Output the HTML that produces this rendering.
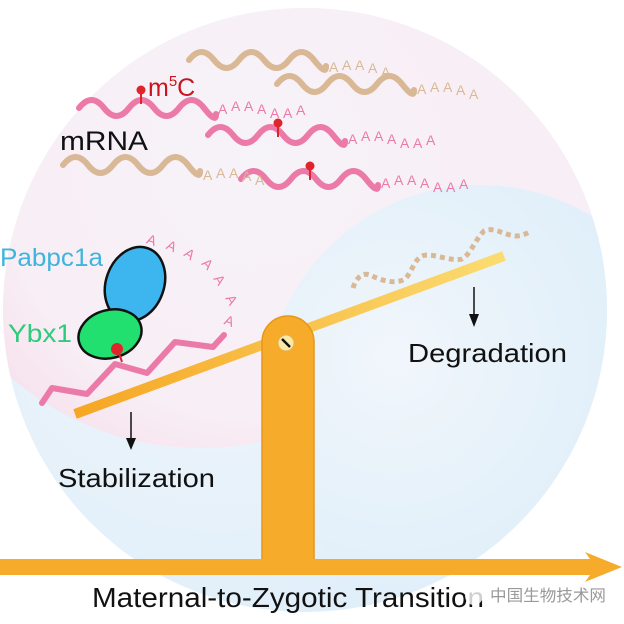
<!DOCTYPE html>
<html><head><meta charset="utf-8"><style>
body{margin:0;background:#fff}
svg{display:block}
text{font-family:"Liberation Sans",Arial,sans-serif}
</style></head><body>
<svg width="624" height="624" viewBox="0 0 624 624" xmlns="http://www.w3.org/2000/svg">
<defs>
<clipPath id="big"><circle cx="305" cy="310" r="302"/></clipPath>
<radialGradient id="pk" cx="0.6" cy="0.5" r="0.6">
<stop offset="0" stop-color="#f6f3f9"/><stop offset="0.75" stop-color="#f8eef5"/><stop offset="1" stop-color="#f6e0ec"/></radialGradient>
<radialGradient id="bl" cx="0.35" cy="0.45" r="0.7">
<stop offset="0" stop-color="#f2f6fb"/><stop offset="1" stop-color="#dcedf9"/></radialGradient>
<radialGradient id="bl2" cx="0.3" cy="0.4" r="0.8">
<stop offset="0" stop-color="#f1f6fb"/><stop offset="1" stop-color="#d9ecf9"/></radialGradient>
<linearGradient id="beam" x1="0" x2="1"><stop offset="0" stop-color="#f6a623"/><stop offset="1" stop-color="#fbdc72"/></linearGradient>
</defs>
<g clip-path="url(#big)">
<rect width="624" height="624" fill="url(#bl)"/>
<rect x="300" y="0" width="324" height="260" fill="#f7eef6"/>
<circle cx="200" cy="160" r="288" fill="url(#pk)"/>
<circle cx="480" cy="400" r="215" fill="url(#bl2)"/>
</g>
<g fill="none" stroke-width="6" stroke-linecap="round">
<path stroke="#d9b896" d="M189,60 q12.5,-16 25,0 t25,0 t25,0 t25,0 t25,0 t12,6"/>
<path stroke="#d9b896" d="M277,84 q12.5,-16 25,0 t25,0 t25,0 t25,0 t25,0 t12,6"/>
<path stroke="#ec7aa8" d="M79,108 q12.5,-16 25,0 t25,0 t25,0 t25,0 t25,0 t12,6"/>
<path stroke="#ec7aa8" d="M208,135 q12.5,-16 25,0 t25,0 t25,0 t25,0 t25,0 t12,6"/>
<path stroke="#d9b896" d="M63,165 q12.5,-16 25,0 t25,0 t25,0 t25,0 t25,0 t12,6"/>
<path stroke="#ec7aa8" d="M241,179 q12.5,-16 25,0 t25,0 t25,0 t25,0 t25,0 t12,6"/>
<polyline stroke="#ec7aa8" stroke-linejoin="round" points="42,403 52,388 87,394 115,364 147,373 175,342 213,347 224,335"/>
</g>
<path fill="none" stroke="#d9b896" stroke-width="5" stroke-dasharray="5,4" d="M353,288 C356,278 362,272 370,275 C380,280 395,285 405,279 C412,272 414,260 422,256 C432,252 450,262 462,259 C470,255 475,240 484,231 C494,226 505,236 517,236 C524,235 528,233 531,231"/>
<g fill="#e0242b" stroke="#e0242b" stroke-width="2">
<line x1="141" y1="92" x2="141" y2="104"/><circle cx="141" cy="90" r="4.5" stroke="none"/>
<line x1="278" y1="125" x2="278" y2="137"/><circle cx="278" cy="123" r="4.5" stroke="none"/>
<line x1="310" y1="168" x2="310" y2="180"/><circle cx="310" cy="166" r="4.5" stroke="none"/>
</g>
<g font-size="14" fill="#d9b896">
<text x="329" y="72">A</text><text x="342" y="70">A</text><text x="355" y="70">A</text><text x="368" y="73">A</text><text x="381" y="77">A</text>
<text x="417" y="94">A</text><text x="430" y="92">A</text><text x="443" y="92">A</text><text x="456" y="95">A</text><text x="469" y="99">A</text>
<text x="203" y="180">A</text><text x="216" y="178">A</text><text x="229" y="178">A</text><text x="242" y="181">A</text><text x="255" y="185">A</text>
</g>
<g font-size="14" fill="#ec7aa8">
<text x="218" y="114">A</text><text x="231" y="111">A</text><text x="244" y="111">A</text><text x="257" y="114">A</text><text x="270" y="118">A</text><text x="283" y="118">A</text><text x="296" y="115">A</text>
<text x="348" y="144">A</text><text x="361" y="141">A</text><text x="374" y="141">A</text><text x="387" y="144">A</text><text x="400" y="148">A</text><text x="413" y="148">A</text><text x="426" y="145">A</text>
<text x="381" y="188">A</text><text x="394" y="185">A</text><text x="407" y="185">A</text><text x="420" y="188">A</text><text x="433" y="192">A</text><text x="446" y="192">A</text><text x="459" y="189">A</text>
<text x="147" y="245" transform="rotate(20 152 240)">A</text>
<text x="167" y="251" transform="rotate(25 172 246)">A</text>
<text x="185" y="259" transform="rotate(35 190 254)">A</text>
<text x="203" y="269" transform="rotate(45 208 264)">A</text>
<text x="215" y="285" transform="rotate(55 220 280)">A</text>
<text x="227" y="305" transform="rotate(60 232 300)">A</text>
<text x="225" y="326" transform="rotate(20 230 320)">A</text>
</g>
<ellipse cx="135" cy="284" rx="29" ry="38" transform="rotate(20 135 284)" fill="#3db6f0" stroke="#111" stroke-width="2.5"/>
<ellipse cx="110" cy="334" rx="32" ry="24" transform="rotate(-15 110 334)" fill="#22e070" stroke="#111" stroke-width="2.5"/>
<line x1="118" y1="350" x2="122" y2="362" stroke="#e0242b" stroke-width="2"/>
<circle cx="117" cy="349" r="6" fill="#e0242b"/>
<line x1="75" y1="414" x2="504" y2="256" stroke="url(#beam)" stroke-width="10"/>
<path d="M262,560 V342 A26,26 0 0 1 314,342 V560 Z" fill="#f6ac2a" stroke="#e7961a" stroke-width="1.5"/>
<path d="M0,559 H590 L585,552 L622,567 L585,582 L590,575 H0 Z" fill="#f6ac2a"/>
<circle cx="286" cy="343" r="8" fill="#fbe8a6" stroke="#e7b050"/>
<line x1="282" y1="339" x2="290" y2="347" stroke="#111" stroke-width="2.5"/>
<g stroke="#111" stroke-width="1.5" fill="#111">
<line x1="131" y1="412" x2="131" y2="442"/><path d="M126,438 L131,450 L136,438 Z" stroke="none"/>
<line x1="474" y1="287" x2="474" y2="318"/><path d="M469,314 L474,327 L479,314 Z" stroke="none"/>
</g>
<text x="148" y="96" font-size="25" fill="#c8141e">m<tspan font-size="15" dy="-10">5</tspan><tspan dy="10">C</tspan></text>
<text x="60" y="150" font-size="27" fill="#111" textLength="88" lengthAdjust="spacingAndGlyphs">mRNA</text>
<text x="0" y="266" font-size="25" fill="#3fb4dc" textLength="103" lengthAdjust="spacingAndGlyphs">Pabpc1a</text>
<text x="8" y="342" font-size="25" fill="#2ecb7a" textLength="64" lengthAdjust="spacingAndGlyphs">Ybx1</text>
<text x="408" y="362" font-size="26" fill="#111" textLength="159" lengthAdjust="spacingAndGlyphs">Degradation</text>
<text x="58" y="487" font-size="26" fill="#111" textLength="157" lengthAdjust="spacingAndGlyphs">Stabilization</text>
<text x="92" y="607" font-size="28" fill="#111" textLength="392" lengthAdjust="spacingAndGlyphs">Maternal-to-Zygotic Transition</text>
<circle cx="474" cy="596" r="9" fill="#fff" opacity="0.8"/>
<text x="490" y="601" font-size="16" fill="#999" font-family="'Liberation Sans','Noto Sans CJK SC',sans-serif" textLength="116" lengthAdjust="spacingAndGlyphs">中国生物技术网</text>
</svg>
</body></html>
